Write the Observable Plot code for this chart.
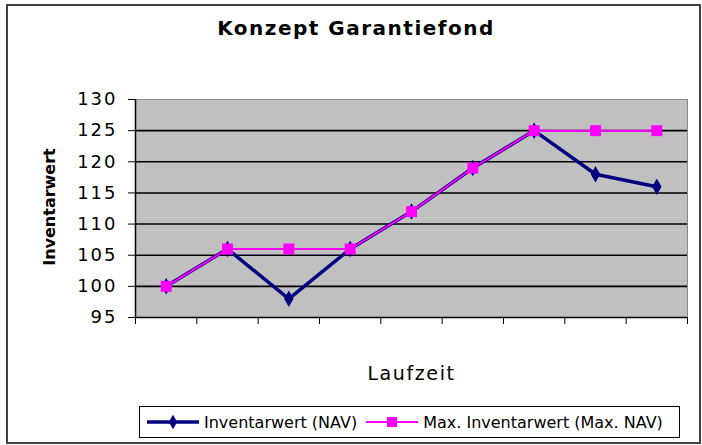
<!DOCTYPE html>
<html><head><meta charset="utf-8">
<script src="https://cdn.jsdelivr.net/npm/d3@7"></script>
<script src="https://cdn.jsdelivr.net/npm/@observablehq/plot@0.6"></script>
<style>
body{margin:0;background:#fff;}
#wrap{position:relative;width:702px;height:445px;font-family:"DejaVu Sans",sans-serif;color:#000;overflow:hidden;}
#frame{position:absolute;left:6px;top:4px;width:691px;height:436px;border:2px solid #404040;}
#title{position:absolute;left:0;width:712px;top:16px;text-align:center;font-weight:bold;font-size:20px;letter-spacing:1.5px;}
#ylab{position:absolute;left:49px;top:207px;transform:translate(-50%,-50%) rotate(-90deg);font-weight:bold;font-size:16px;white-space:nowrap;}
#xlab{position:absolute;left:136px;width:551px;top:362px;text-align:center;font-size:19px;letter-spacing:1.6px;}
#legend{position:absolute;left:139px;top:406px;width:539px;height:30px;border:1.5px solid #000;display:flex;align-items:center;font-size:16px;white-space:nowrap;}
#legend span{display:inline-flex;align-items:center;}
#wrap svg.plot{position:absolute;left:0;top:0;}
</style></head><body><div id="wrap"><div id="frame"></div></div>
<script>
const periods = [1,2,3,4,5,6,7,8,9];
const navValues = [100,106,98,106,112,119,125,118,116];
const maxNavValues = [100,106,106,106,112,119,125,125,125];
const yTicks = [95,100,105,110,115,120,125,130];
const seriesNames = ["Inventarwert (NAV)","Max. Inventarwert (Max. NAV)"];
const seriesColors = ["#000080","#ff00ff"];
const titleText = "Konzept Garantiefond";
const xLabelText = "Laufzeit";
const yLabelText = "Inventarwert";

const nav = periods.map((p,i)=>({p, v:navValues[i]}));
const maxNav = periods.map((p,i)=>({p, v:maxNavValues[i]}));
const xBounds = d3.range(0.5, periods.length + 1, 1);

const chart = Plot.plot({
  width:702, height:445,
  marginLeft:135, marginRight:15, marginTop:99, marginBottom:128,
  x:{domain:[0.5, periods.length + 0.5], axis:null},
  y:{domain:[95,130], axis:null},
  style:{background:"transparent", fontFamily:"DejaVu Sans, sans-serif", fontSize:"18px", color:"#000", letterSpacing:"2px"},
  marks:[
    Plot.frame({fill:"#c0c0c0", stroke:"#8a8a8a"}),
    Plot.ruleY(yTicks.slice(1,-1), {stroke:"#000", strokeWidth:1.6}),
    Plot.axisY({ticks:yTicks, tickSize:7, tickPadding:11, label:null, fontSize:18, stroke:"#000", strokeOpacity:1}),
    Plot.axisX({ticks:xBounds, tickSize:7, tickFormat:()=>"", label:null, stroke:"#000", strokeOpacity:1}),
    Plot.ruleX([0.5], {stroke:"#000", strokeWidth:1.5}),
    Plot.ruleY([95], {stroke:"#000", strokeWidth:1.5}),
    Plot.line(nav, {x:"p", y:"v", stroke:seriesColors[0], strokeWidth:3.5}),
    Plot.dot(nav, {x:"p", y:"v", symbol:"diamond", r:5, fill:seriesColors[0], stroke:"none"}),
    Plot.line(maxNav, {x:"p", y:"v", stroke:seriesColors[1], strokeWidth:2}),
    Plot.dot(maxNav, {x:"p", y:"v", symbol:"square", r:6.2, fill:seriesColors[1], stroke:"none"})
  ]
});
chart.classList.add("plot");
const wrap = document.getElementById("wrap");
wrap.insertBefore(chart, wrap.firstChild);

function el(id, txt){ const d=document.createElement("div"); d.id=id; d.textContent=txt; wrap.appendChild(d); return d; }
el("title", titleText);
el("ylab", yLabelText);
el("xlab", xLabelText);

const legend = document.createElement("div");
legend.id = "legend";
const syms = ["diamond","square"];
seriesNames.forEach((name,i)=>{
  const s = document.createElement("span");
  s.style.marginLeft = i===0 ? "6px" : "8px";
  const sym = d3.symbol(syms[i]==="diamond"?d3.symbolDiamond:d3.symbolSquare, syms[i]==="diamond"?60:100)();
  s.innerHTML = `<svg width="54" height="16"><line x1="1" x2="53" y1="8" y2="8" stroke="${seriesColors[i]}" stroke-width="${i===0?3.5:2}"/><path transform="translate(27,8)" d="${sym}" fill="${seriesColors[i]}"/></svg>`;
  const t = document.createElement("span"); t.textContent = name; t.style.marginLeft="4px";
  s.appendChild(t);
  legend.appendChild(s);
});
wrap.appendChild(legend);
</script></body></html>
